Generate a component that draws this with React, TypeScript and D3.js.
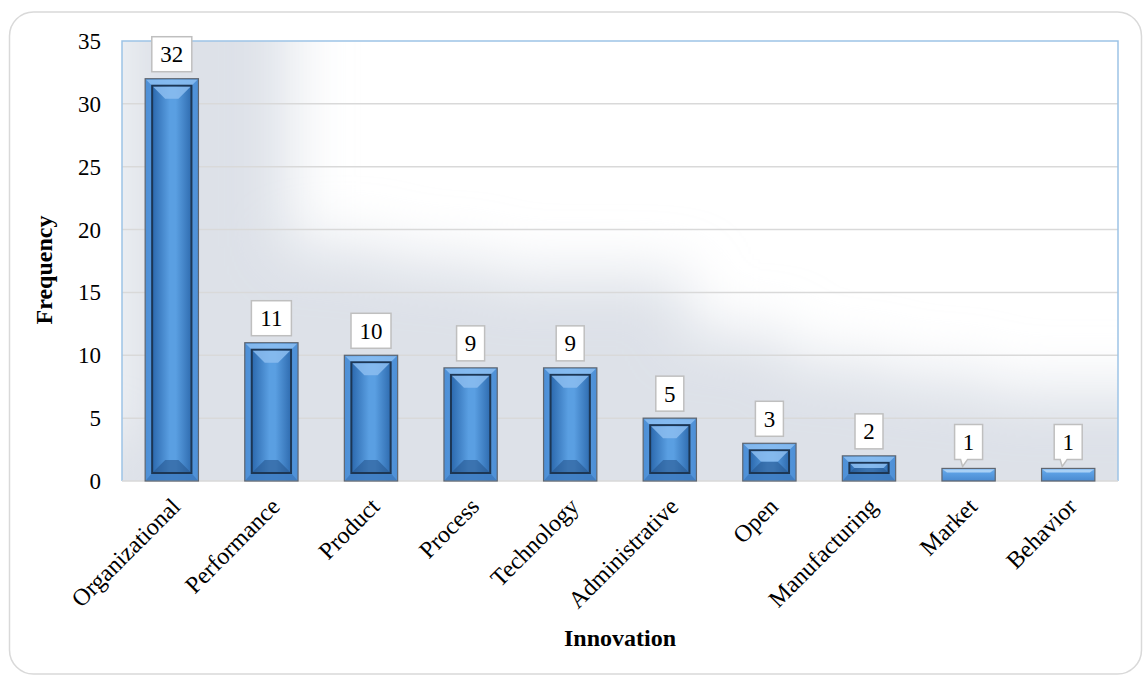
import React from "react";
import * as d3 from "d3";

const categories = ["Organizational", "Performance", "Product", "Process", "Technology", "Administrative", "Open", "Manufacturing", "Market", "Behavior"];
const values = [32, 11, 10, 9, 9, 5, 3, 2, 1, 1];
const yTicks = [0, 5, 10, 15, 20, 25, 30, 35];
const xTitle = "Innovation";
const yTitle = "Frequency";

const W = 1144, H = 677;
const PL = 122, PR = 1118, PT = 41, PB = 481;
const FONT = "'Liberation Serif', 'Times New Roman', serif";

export default function App() {
  const x = d3.scaleBand<string>().domain(categories).range([PL, PR]).paddingInner(0.465).paddingOuter(0.2325);
  const y = d3.scaleLinear().domain([0, 35]).range([PB, PT]);
  const bw = x.bandwidth();
  const band = x.step();

  return (
    <svg width={W} height={H} style={{ position: "absolute", left: 0, top: 0, background: "#fff" }}>
      <defs>
        <clipPath id="plotClip">
          <rect x={PL} y={PT} width={PR - PL} height={PB - PT} />
        </clipPath>
        <filter id="blurShadow" x="-50%" y="-50%" width="200%" height="200%">
          <feGaussianBlur stdDeviation="30" />
        </filter>
        <linearGradient id="innerGrad" x1="0" x2="1" y1="0" y2="0">
          <stop offset="0" stopColor="#2b68ad" />
          <stop offset="0.45" stopColor="#5a9fe2" />
          <stop offset="0.6" stopColor="#5a9fe2" />
          <stop offset="1" stopColor="#2f6cb0" />
        </linearGradient>
        <linearGradient id="frameGrad" x1="0" x2="1" y1="0" y2="0">
          <stop offset="0" stopColor="#4d8fd6" />
          <stop offset="0.5" stopColor="#5ea2e6" />
          <stop offset="1" stopColor="#4d8fd6" />
        </linearGradient>
        <linearGradient id="smallGrad" x1="0" x2="0" y1="0" y2="1">
          <stop offset="0" stopColor="#7ab4ee" />
          <stop offset="0.3" stopColor="#5ea2e6" />
          <stop offset="1" stopColor="#4a8ad0" />
        </linearGradient>
      </defs>

      {/* outer chart border */}
      <rect x={9.5} y={12} width={1132} height={662} rx={24} fill="#fff" stroke="#d9d9d9" strokeWidth={1.5} />

      {/* plot background + soft shadow */}
      <rect x={PL} y={PT} width={PR - PL} height={PB - PT} fill="#fff" />
      <g clipPath="url(#plotClip)">
        <g filter="url(#blurShadow)" fill="#dde1e8">
          {categories.map((c, i) => {
            const x0 = (x(c) as number) - band * 0.3;
            const top = y(values[i] * 1.15 + 6);
            return <rect key={c} x={x0} y={top} width={band * 1.75} height={PB + 80 - top} />;
          })}
          <rect x={PL - 60} y={PB - 40} width={PR - PL + 120} height={100} />
        </g>
      </g>

      {/* gridlines */}
      {yTicks.filter((t) => t > 0 && t < 35).map((t) => (
        <line key={t} x1={PL} x2={PR} y1={y(t)} y2={y(t)} stroke="#d9d9d9" strokeWidth={1.5} />
      ))}
      {/* plot border */}
      <path d={`M${PL},${PB} V${PT} H${PR} V${PB}`} fill="none" stroke="#9dc3e6" strokeWidth={1.5} />
      <line x1={PL} x2={PR} y1={PB} y2={PB} stroke="#d9d9d9" strokeWidth={1.5} />

      {/* y tick labels */}
      {yTicks.map((t) => (
        <text key={t} x={101} y={y(t) + 8} textAnchor="end" fontFamily={FONT} fontSize={23} fill="#000">{t}</text>
      ))}

      {/* bars */}
      {categories.map((c, i) => {
        const bx = x(c) as number;
        const by = y(values[i]);
        const bh = PB - by;
        const inset = 7;
        const ix = bx + inset, iy = by + inset, iw = bw - 2 * inset, ih = bh - inset - 8;
        const big = ih > 6;
        const b = Math.min(13, iw / 2, ih / 2);
        return (
          <g key={c}>
            <rect x={bx} y={by} width={bw} height={bh} fill={big ? "url(#frameGrad)" : "url(#smallGrad)"} stroke="#5f6670" strokeWidth={1.2} />
            {!big && (
              <polygon points={`${bx + 1},${by + 1} ${bx + bw - 1},${by + 1} ${bx + bw - 5},${by + 4} ${bx + 5},${by + 4}`} fill="#a9d0f5" />
            )}
            {big && (
              <g>
                <polygon points={`${bx + 1},${by + 1} ${bx + bw - 1},${by + 1} ${ix + iw},${iy} ${ix},${iy}`} fill="#8fc1f2" opacity={0.8} />
                <polygon points={`${bx + 1},${PB - 1} ${bx + bw - 1},${PB - 1} ${ix + iw},${iy + ih} ${ix},${iy + ih}`} fill="#3b78bd" opacity={0.8} />
                <rect x={ix} y={iy} width={iw} height={ih} fill="url(#innerGrad)" stroke="#1c3654" strokeWidth={2} />
                <polygon points={`${ix + 1},${iy + 1} ${ix + iw - 1},${iy + 1} ${ix + iw - b},${iy + b} ${ix + b},${iy + b}`} fill="#8cbdf0" opacity={0.85} />
                <polygon points={`${ix + 1},${iy + ih - 1} ${ix + iw - 1},${iy + ih - 1} ${ix + iw - b},${iy + ih - b} ${ix + b},${iy + ih - b}`} fill="#27578f" opacity={0.6} />
              </g>
            )}
          </g>
        );
      })}

      {/* data labels */}
      {categories.map((c, i) => {
        const cx = (x(c) as number) + bw / 2;
        const by = y(values[i]);
        const label = String(values[i]);
        const boxW = label.length > 1 ? 40 : 28;
        const boxH = 35;
        const callout = values[i] <= 1;
        const gap = callout ? 9 : 7;
        const top = by - gap - boxH;
        const bx0 = cx - boxW / 2;
        return (
          <g key={c}>
            {callout ? (
              <path
                d={`M${bx0},${top} H${bx0 + boxW} V${top + boxH} H${cx - 1} L${cx - 6},${by - 2} L${cx - 8},${top + boxH} H${bx0} Z`}
                fill="#fff" stroke="#bfbfbf" strokeWidth={1.5}
              />
            ) : (
              <rect x={bx0} y={top} width={boxW} height={boxH} fill="#fff" stroke="#bfbfbf" strokeWidth={1.5} />
            )}
            <text x={cx} y={top + boxH / 2 + 8} textAnchor="middle" fontFamily={FONT} fontSize={23} fill="#000">{label}</text>
          </g>
        );
      })}

      {/* x category labels */}
      {categories.map((c) => {
        const cx = (x(c) as number) + bw / 2;
        return (
          <text key={c} transform={`translate(${cx + 10},${PB + 27}) rotate(-45)`} textAnchor="end" fontFamily={FONT} fontSize={24} fill="#000">{c}</text>
        );
      })}

      {/* axis titles */}
      <text x={620} y={646} textAnchor="middle" fontFamily={FONT} fontSize={24} fontWeight="bold" fill="#000">{xTitle}</text>
      <text transform={`translate(52,270) rotate(-90)`} textAnchor="middle" fontFamily={FONT} fontSize={24} fontWeight="bold" fill="#000">{yTitle}</text>
    </svg>
  );
}
